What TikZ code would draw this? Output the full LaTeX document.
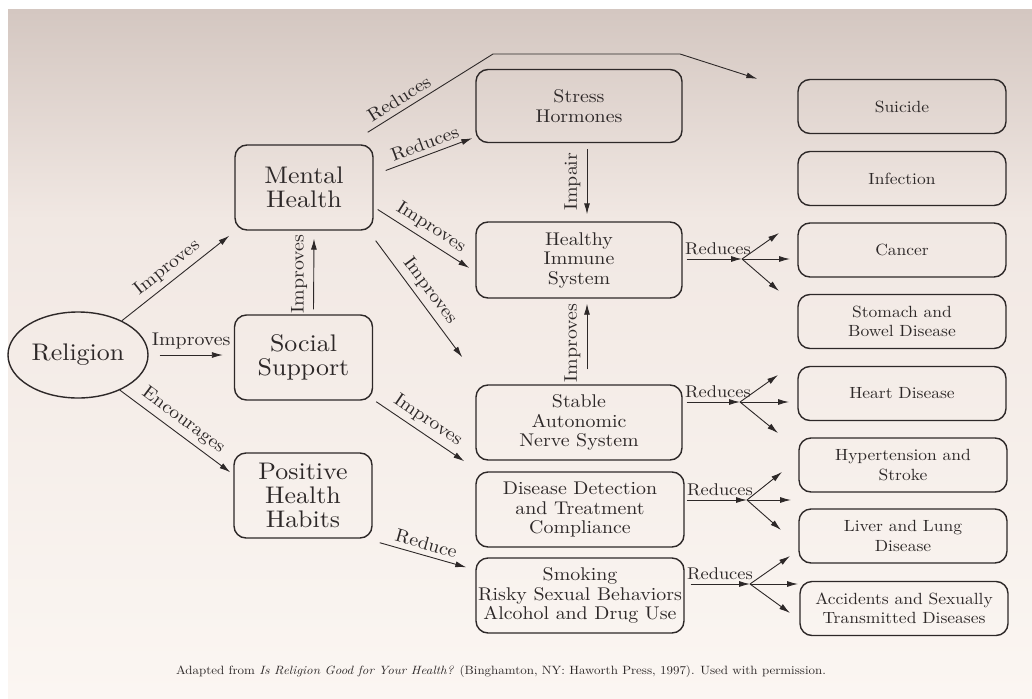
\documentclass[tikz,border=0pt]{standalone}
\usepackage{fontspec}
\setmainfont{lmroman10-regular.otf}[FakeStretch=1.08, ItalicFont=lmroman10-italic.otf]
\usetikzlibrary{arrows.meta,shapes.geometric}
\definecolor{ink}{RGB}{45,40,40}
\definecolor{bgtop}{RGB}{212,199,193}
\definecolor{bgmid}{RGB}{241,232,227}
\definecolor{bgbot}{RGB}{251,246,242}
\tikzset{
  box/.style={draw=ink, line width=1.4pt, rounded corners=12pt, align=center, inner sep=0pt, text=ink},
  bignode/.style={box, minimum width=138pt, minimum height=85pt, font=\fontsize{24}{24}\selectfont},
  midnode/.style={box, minimum width=206pt, minimum height=75pt, font=\fontsize{18.4}{19.5}\selectfont},
  outnode/.style={box, minimum width=208pt, minimum height=54pt, font=\fontsize{16.2}{19.5}\selectfont},
  arr/.style={draw=ink, line width=0.9pt, -{Latex[length=11pt,width=6pt]}},
  lbl/.style={font=\fontsize{18.4}{20}\selectfont, text=ink, inner sep=2pt},
  fanlbl/.style={lbl, font=\fontsize{17}{20}\selectfont, pos=0, anchor=south west, inner sep=0pt, xshift=2pt, yshift=4pt},
}
\begin{document}
\begin{tikzpicture}[x=1pt,y=-1pt]
\useasboundingbox (0,0) rectangle (1032,698);
\fill[white] (0,0) rectangle (1032,698);
\shade[top color=bgtop, bottom color=bgmid] (8,10) rectangle (1032,220);
\shade[top color=bgmid, bottom color=bgbot] (8,220) rectangle (1032,698);

% left column
\node[ellipse, draw=ink, line width=1.4pt, minimum width=140pt, minimum height=86pt, inner sep=0pt,
      text=ink, font=\fontsize{24}{24}\selectfont] (rel) at (78,355) {Religion};
\node[bignode] (mh)  at (304,187.5) {Mental\\Health};
\node[bignode] (ss)  at (303.5,357.5) {Social\\Support};
\node[bignode] (phh) at (303,495.5) {Positive\\Health\\Habits};

% middle column
\node[midnode, minimum height=73pt] (sh) at (579,106) {Stress\\Hormones};
\node[midnode, minimum height=76pt] (his) at (579,260) {Healthy\\Immune\\System};
\node[midnode] (sans) at (579,422.5) {Stable\\Autonomic\\Nerve System};
\node[midnode, minimum width=208pt] (ddt) at (580,509.5) {Disease Detection\\and Treatment\\Compliance};
\node[midnode, minimum width=208pt] (smk) at (580,595.5) {Smoking\\Risky Sexual Behaviors\\Alcohol and Drug Use};

% right column
\node[outnode] (sui) at (902,106.5) {Suicide};
\node[outnode] (inf) at (902,178.5) {Infection};
\node[outnode] (can) at (902,250) {Cancer};
\node[outnode] (sto) at (902,321.5) {Stomach and\\Bowel Disease};
\node[outnode] (hrt) at (902,393.5) {Heart Disease};
\node[outnode] (hyp) at (903,465) {Hypertension and\\Stroke};
\node[outnode] (liv) at (903,536) {Liver and Lung\\Disease};
\node[outnode] (acc) at (904,608.5) {Accidents and Sexually\\Transmitted Diseases};

% religion arrows
\draw[arr] (rel.38) -- node[lbl, sloped, above=3pt]{Improves} ([shift={(-5,5)}]mh.south west);
\draw[arr, shorten <=11pt, shorten >=11pt] (rel.east) -- node[lbl, above=3pt]{Improves} (rel.east -| ss.west);
\draw[arr] (rel.-40) -- node[lbl, sloped, above=3pt]{Encourages} ([shift={(-3,20)}]phh.north west);

% social support -> mental health
\draw[arr] ([shift={(10,-5)}]ss.north) -- node[lbl, rotate=90, above=4pt, midway]{Improves} ([shift={(10,8)}]mh.south);

% mental health arrows
\coordinate (s1) at (493,54);
\coordinate (s2) at (680,54);
\draw[arr, line join=round] ([shift={(-6,-12)}]mh.north east) -- node[lbl, sloped, above=3pt, pos=0.3]{Reduces} (s1) -- (s2) -- ([xshift=-40]sui.north west);
\draw[arr] ([shift={(12,-17)}]mh.east) -- node[lbl, sloped, above=3pt]{Reduces} ([shift={(-3,-5)}]sh.south west);
\draw[arr] ([shift={(4,22)}]mh.east) -- node[lbl, sloped, above=3pt]{Improves} ([shift={(-6,8)}]his.west);
\draw[arr] ([shift={(2,10)}]mh.south east) -- node[lbl, sloped, above=3pt]{Improves} ([shift={(-13,-27)}]sans.north west);

% vertical middle arrows
\draw[arr] ([shift={(8,6)}]sh.south) -- node[lbl, rotate=90, above=4pt, midway]{Impair} ([shift={(8,-7)}]his.north);
\draw[arr] ([shift={(8,-15)}]sans.north) -- node[lbl, rotate=90, above=4pt, pos=0.4]{Improves} ([shift={(8,5)}]his.south);

% social support -> disease detection ; habits -> smoking
\draw[arr] ([shift={(3,1)}]ss.south east) -- node[lbl, sloped, above=3pt]{Improves} ([shift={(-11,-10)}]ddt.north west);
\draw[arr] ([shift={(7,4)}]phh.south east) -- node[lbl, sloped, above=3pt]{Reduce} ([shift={(-9,10)}]smk.north west);

% fan arrows
\coordinate (h1) at (742,259);
\coordinate (t1a) at (779,233);
\coordinate (t1b) at (790,259);
\coordinate (t1c) at (779,291);
\draw[arr, shorten <=4pt] (his.east |- h1) -- node[fanlbl]{Reduces} (h1);
\draw[arr] (h1) -- (t1a);
\draw[arr] (h1) -- (t1b);
\draw[arr] (h1) -- (t1c);

\coordinate (h2) at (740,402);
\coordinate (t2a) at (778,375);
\coordinate (t2b) at (789,402);
\coordinate (t2c) at (778,433);
\draw[arr, shorten <=4pt] (sans.east |- h2) -- node[fanlbl]{Reduces} (h2);
\draw[arr] (h2) -- (t2a);
\draw[arr] (h2) -- (t2b);
\draw[arr] (h2) -- (t2c);

\coordinate (h3) at (747,500);
\coordinate (t3a) at (782,472);
\coordinate (t3b) at (791,500);
\coordinate (t3c) at (781,530);
\draw[arr, shorten <=2pt] (ddt.east |- h3) -- node[fanlbl]{Reduces} (h3);
\draw[arr] (h3) -- (t3a);
\draw[arr] (h3) -- (t3b);
\draw[arr] (h3) -- (t3c);

\coordinate (h4) at (750,584);
\coordinate (t4a) at (790,556);
\coordinate (t4b) at (798,584);
\coordinate (t4c) at (790,613);
\draw[arr, shorten <=6pt] (smk.east |- h4) -- node[fanlbl]{Reduces} (h4);
\draw[arr] (h4) -- (t4a);
\draw[arr] (h4) -- (t4b);
\draw[arr] (h4) -- (t4c);

% caption
\node[text=ink, font=\fontsize{12}{14}\selectfont] (cap) at (501,671)
  {Adapted from \textit{Is Religion Good for Your Health?} (Binghamton, NY: Haworth Press, 1997). Used with permission.};
\end{tikzpicture}
\end{document}
